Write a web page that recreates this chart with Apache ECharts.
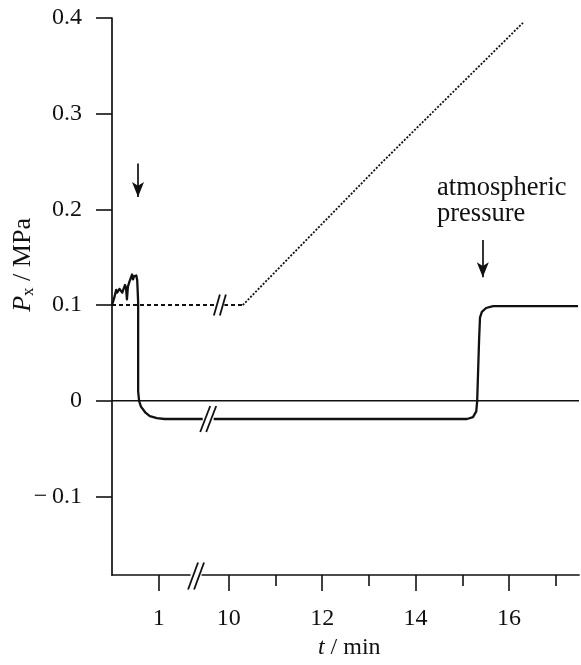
<!DOCTYPE html>
<html>
<head>
<meta charset="utf-8">
<script src="https://cdn.jsdelivr.net/npm/echarts@6/dist/echarts.min.js"></script>
<style>
html,body{margin:0;padding:0;background:#fff;}
#c{width:581px;height:665px;}
</style>
</head>
<body>
<div id="c"></div>
<script>
// ---- data (t in minutes, P in MPa) ----
const traceT = [0.00, 0.05, 0.09, 0.11, 0.13, 0.16, 0.19, 0.22, 0.24, 0.28, 0.30, 0.32, 0.34, 0.37, 0.39, 0.43, 0.45, 0.47, 0.49, 0.52, 0.54, 0.56, 0.56, 0.58, 0.62, 0.71, 0.81, 0.96, 1.13, 15.10, 15.23, 15.30, 15.32, 15.36, 15.38, 15.42, 15.51, 15.66, 17.48];
const traceP = [0.100, 0.108, 0.116, 0.113, 0.111, 0.117, 0.119, 0.113, 0.116, 0.121, 0.118, 0.106, 0.119, 0.124, 0.126, 0.132, 0.127, 0.130, 0.129, 0.131, 0.126, 0.103, 0.010, 0.000, -0.006, -0.012, -0.016, -0.018, -0.019, -0.019, -0.017, -0.011, 0.000, 0.063, 0.087, 0.093, 0.097, 0.099, 0.099];
const dottedT = [0, 10.3, 13.3, 16.3];
const dottedP = [0.100, 0.100, 0.250, 0.395];
const zeroT = [0, 17.5];
const zeroP = [0, 0];
const xMajorTicks = [1, 10, 12, 14, 16];
const xMinorTicks = [11, 13, 15, 17];
const yTicks = [-0.1, 0, 0.1, 0.2, 0.3, 0.4];
const arrowT = [0.557, 15.44];
const arrowTop = [0.248, 0.168];
const arrowBottom = [0.213, 0.129];
const annotation = ['atmospheric', 'pressure'];

// broken time axis: [0, 1.77] then [9.27, ...]
const BREAK_START = 1.77, SHIFT = 7.5;
const toU = t => (t <= BREAK_START ? t : t - SHIFT);
const toT = u => (u <= BREAK_START + 0.001 ? u : u + SHIFT);
const pairs = (ts, ps) => ts.map((t, i) => [toU(t), ps[i]]);

const FONT = 'Liberation Serif';
const chart = echarts.init(document.getElementById('c'), null, {renderer: 'canvas'});

const dotted = pairs(dottedT, dottedP);

chart.setOption({
  animation: false,
  backgroundColor: '#fff',
  grid: {left: 112, right: 2, top: 18, bottom: 90, containLabel: false},
  xAxis: [{
    type: 'value', min: 0, max: 10,
    axisLine: {show: true, onZero: false, lineStyle: {color: '#111', width: 1.7}},
    axisTick: {show: true, length: 16, lineStyle: {color: '#111', width: 1.6}, customValues: xMajorTicks.map(toU)},
    axisLabel: {show: true, margin: 32, fontFamily: FONT, fontSize: 24, color: '#111',
      customValues: xMajorTicks.map(toU),
      formatter: v => String(Math.round(toT(v)))},
    splitLine: {show: false}
  }, {
    type: 'value', min: 0, max: 10, position: 'bottom',
    axisLine: {show: false, onZero: false},
    axisTick: {show: true, length: 11, lineStyle: {color: '#111', width: 1.6}, customValues: xMinorTicks.map(toU)},
    axisLabel: {show: false},
    splitLine: {show: false}
  }],
  yAxis: {
    type: 'value', min: -0.182, max: 0.4,
    axisLine: {show: true, onZero: false, lineStyle: {color: '#111', width: 1.7}},
    axisTick: {show: true, length: 16, lineStyle: {color: '#111', width: 1.6}, customValues: yTicks},
    axisLabel: {show: true, margin: 30, fontFamily: FONT, fontSize: 24, color: '#111',
      customValues: yTicks,
      formatter: v => (Math.abs(v) < 1e-9 ? '0' : v < 0 ? '\u2212\u2009' + Math.abs(v).toFixed(1) : v.toFixed(1))},
    splitLine: {show: false}
  },
  series: [
    {type: 'line', data: pairs(zeroT, zeroP), symbol: 'none', silent: true,
     lineStyle: {color: '#111', width: 1.4}, z: 2},
    {type: 'line', data: dotted.slice(0, 2), symbol: 'none', silent: true,
     lineStyle: {color: '#111', width: 2, type: [4, 3]}, z: 3},
    {type: 'line', data: dotted.slice(1), symbol: 'none', silent: true,
     lineStyle: {color: '#111', width: 1.8, type: [2, 1.6]}, z: 3},
    {type: 'line', data: pairs(traceT, traceP), symbol: 'none', silent: true,
     lineStyle: {color: '#111', width: 2.3, join: 'round'}, z: 4},
    {type: 'line', data: [], symbol: 'none', silent: true,
     markLine: {silent: true, symbol: ['none', 'arrow'], symbolSize: [9, 15], label: {show: false},
       lineStyle: {color: '#111', width: 1.7, type: 'solid'},
       data: arrowT.map((t, i) => [{coord: [toU(t), arrowTop[i]]}, {coord: [toU(t), arrowBottom[i]]}])}}
  ]
});

// decorations: break marks, annotation, axis titles
function breakMark(cx, cy, dx, dy, sep, w) {
  const els = [{type: 'rect', shape: {x: cx - sep / 2 - dx / 4, y: cy - 3, width: sep + dx / 2, height: 6},
    style: {fill: '#fff'}, z: 100}];
  [-sep / 2, sep / 2].forEach(o => {
    els.push({type: 'line', shape: {x1: cx + o - dx / 2, y1: cy + dy / 2, x2: cx + o + dx / 2, y2: cy - dy / 2},
      style: {stroke: '#111', lineWidth: w}, z: 101});
  });
  return els;
}
const px = (t, p) => chart.convertToPixel({gridIndex: 0}, [toU(t), p]);
const axisY = px(0, -0.182)[1];
const bAxis = [chart.convertToPixel({xAxisIndex: 0}, 1.8), axisY];
const bDot = px(0, 0.1); bDot[0] = chart.convertToPixel({xAxisIndex: 0}, 2.31);
const bSol = px(0, -0.019); bSol[0] = chart.convertToPixel({xAxisIndex: 0}, 2.06);
const annPos = px(14.46, 0.236);
const xName = [chart.convertToPixel({xAxisIndex: 0}, 5.08), axisY + 73];
const yName = [23, px(0, 0.142)[1]];

chart.setOption({
  graphic: [].concat(
    breakMark(bAxis[0], bAxis[1] + 1, 10, 27, 6, 1.8),
    breakMark(bDot[0], bDot[1], 6, 21, 6, 1.8),
    breakMark(bSol[0], bSol[1], 10, 26, 6, 1.8),
    [{type: 'text', x: annPos[0], y: annPos[1], z: 100,
      style: {text: annotation.join('\n'), font: '26.5px "Liberation Serif"', fill: '#111',
        align: 'left', verticalAlign: 'top', lineHeight: 26}},
     {type: 'text', x: xName[0], y: xName[1], z: 100,
      style: {text: '{i|t} / min', fill: '#111', align: 'center', verticalAlign: 'middle',
        font: '24px "Liberation Serif"',
        rich: {i: {fontFamily: FONT, fontStyle: 'italic', fontSize: 24, fill: '#111'}}}},
     {type: 'text', x: yName[0], y: yName[1], rotation: Math.PI / 2, z: 100,
      style: {text: '{p|P}{s|x} / MPa', fill: '#111', align: 'center', verticalAlign: 'middle',
        font: '26px "Liberation Serif"',
        rich: {p: {fontFamily: FONT, fontStyle: 'italic', fontSize: 26, fill: '#111'},
               s: {fontFamily: FONT, fontSize: 17, fill: '#111', padding: [11, 0, 0, 0]}}}}]
  )
});
</script>
</body>
</html>
